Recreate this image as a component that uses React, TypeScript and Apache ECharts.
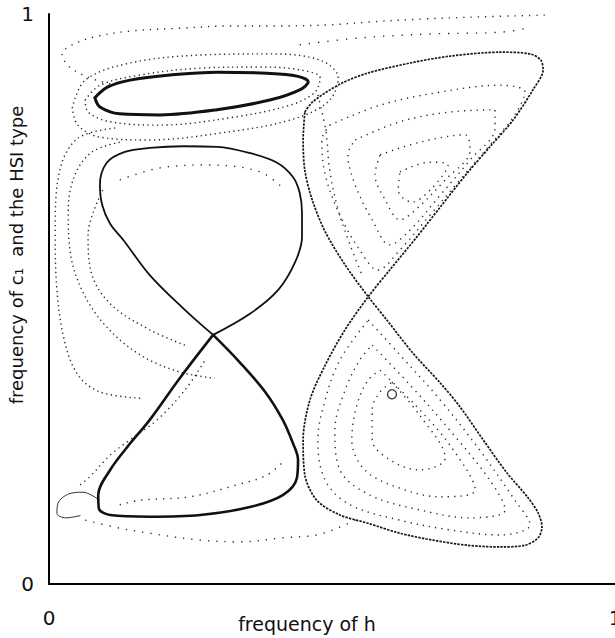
import React, { useEffect, useRef } from 'react';
import * as echarts from 'echarts';

// Axis ticks and their printed labels
const axisTicks = [0, 1];
const tickLabels = ['0', '1'];
const xTitle = 'frequency of h';
const yTitle = 'frequency of c\u2081  and the HSI type';

// Figure-eight orbit (frequency of h, frequency of c1), upper and lower lobes
const eightUpper = [
  [0.29, 0.437], [0.24, 0.481], [0.178, 0.542], [0.131, 0.604], [0.108, 0.632], [0.094, 0.665],
  [0.09, 0.7], [0.102, 0.739], [0.134, 0.758], [0.178, 0.765], [0.237, 0.768], [0.297, 0.767],
  [0.355, 0.756], [0.403, 0.739], [0.431, 0.714], [0.443, 0.686], [0.447, 0.651], [0.447, 0.609],
  [0.435, 0.565], [0.405, 0.516], [0.355, 0.474], [0.29, 0.437],
];
const eightLower = [
  [0.29, 0.437], [0.231, 0.361], [0.178, 0.288], [0.138, 0.24], [0.108, 0.2], [0.087, 0.156],
  [0.088, 0.133], [0.108, 0.121], [0.178, 0.118], [0.267, 0.121], [0.355, 0.135], [0.413, 0.156],
  [0.438, 0.186], [0.44, 0.218], [0.431, 0.247], [0.413, 0.288], [0.382, 0.337], [0.337, 0.389],
  [0.29, 0.437],
];
// Narrow cycle near the top
const topCycle = [
  [0.081, 0.853], [0.104, 0.872], [0.143, 0.884], [0.214, 0.893], [0.297, 0.898], [0.385, 0.896],
  [0.438, 0.891], [0.458, 0.881], [0.443, 0.867], [0.39, 0.849], [0.297, 0.832], [0.196, 0.823],
  [0.125, 0.825], [0.09, 0.837], [0.081, 0.853],
];
// Bow-tie orbit on the right
const bowtie = [
  [0.452, 0.828], [0.466, 0.846], [0.514, 0.877], [0.562, 0.896], [0.638, 0.914], [0.708, 0.926],
  [0.797, 0.933], [0.85, 0.93], [0.869, 0.919], [0.873, 0.902], [0.855, 0.867], [0.82, 0.814],
  [0.779, 0.767], [0.739, 0.721], [0.691, 0.661], [0.65, 0.609], [0.602, 0.551], [0.564, 0.504],
  [0.523, 0.446], [0.488, 0.384], [0.461, 0.323], [0.449, 0.253], [0.452, 0.191], [0.473, 0.147],
  [0.514, 0.121], [0.562, 0.107], [0.62, 0.089], [0.678, 0.077], [0.739, 0.068], [0.797, 0.065],
  [0.841, 0.068], [0.864, 0.081], [0.871, 0.1], [0.864, 0.125], [0.845, 0.153], [0.809, 0.195],
  [0.767, 0.253], [0.726, 0.311], [0.691, 0.353], [0.643, 0.405], [0.597, 0.463], [0.564, 0.504],
  [0.523, 0.56], [0.488, 0.618], [0.465, 0.674], [0.452, 0.726], [0.449, 0.779], [0.452, 0.828],
];
const smallLoop = [
  [0.085, 0.15], [0.06, 0.161], [0.035, 0.158], [0.016, 0.142], [0.014, 0.124], [0.03, 0.116],
  [0.055, 0.12],
];
const equilibrium = [[0.606, 0.333]];

// Transient trajectories (dotted)
const topArc = [
  [0.876, 0.998], [0.761, 0.995], [0.655, 0.991], [0.567, 0.986], [0.496, 0.981], [0.408, 0.979],
  [0.32, 0.979], [0.231, 0.975], [0.143, 0.97], [0.081, 0.96], [0.041, 0.946], [0.023, 0.93],
  [0.034, 0.909], [0.069, 0.889], [0.117, 0.875],
];
const topArc2 = [
  [0.443, 0.946], [0.549, 0.958], [0.673, 0.965], [0.797, 0.968], [0.845, 0.975],
];
const ringInner = [
  [0.064, 0.849], [0.09, 0.875], [0.161, 0.893], [0.267, 0.905], [0.373, 0.907], [0.443, 0.902],
  [0.479, 0.888], [0.47, 0.863], [0.426, 0.84], [0.32, 0.818], [0.196, 0.805], [0.108, 0.811],
  [0.069, 0.828], [0.064, 0.849],
];
const ringOuter = [
  [0.041, 0.835], [0.064, 0.884], [0.143, 0.914], [0.267, 0.928], [0.39, 0.93], [0.479, 0.919],
  [0.511, 0.888], [0.493, 0.846], [0.426, 0.814], [0.302, 0.791], [0.178, 0.779], [0.09, 0.784],
  [0.051, 0.805], [0.041, 0.835],
];
const leftNear = [
  [0.125, 0.775], [0.076, 0.758], [0.046, 0.718], [0.034, 0.656], [0.037, 0.586], [0.058, 0.516],
  [0.099, 0.454], [0.161, 0.402], [0.231, 0.372], [0.293, 0.361],
];
const leftFar = [
  [0.117, 0.8], [0.051, 0.782], [0.019, 0.726], [0.011, 0.621], [0.014, 0.516], [0.027, 0.428],
  [0.051, 0.367], [0.09, 0.337], [0.161, 0.326],
];
const leftInner = [
  [0.095, 0.691], [0.069, 0.612], [0.076, 0.542], [0.111, 0.489], [0.178, 0.446], [0.24, 0.419],
];
const lobeInside = [
  [0.125, 0.709], [0.196, 0.73], [0.284, 0.735], [0.373, 0.723], [0.417, 0.691],
];
const gapTrail = [
  [0.475, 0.858], [0.489, 0.796], [0.496, 0.726], [0.511, 0.656], [0.532, 0.595], [0.553, 0.542],
];
const belowArc = [
  [0.064, 0.112], [0.125, 0.098], [0.178, 0.089], [0.267, 0.077], [0.337, 0.074], [0.413, 0.081],
  [0.473, 0.086], [0.514, 0.1], [0.549, 0.116],
];
const lowerInside = [
  [0.125, 0.139], [0.161, 0.147], [0.249, 0.153], [0.332, 0.174], [0.385, 0.191], [0.417, 0.218],
];
const besideDiagonal = [
  [0.055, 0.174], [0.072, 0.188], [0.108, 0.226], [0.143, 0.253], [0.191, 0.288], [0.24, 0.34],
  [0.276, 0.393],
];
const upperNest1 = [
  [0.496, 0.805], [0.585, 0.84], [0.691, 0.863], [0.797, 0.875], [0.841, 0.863], [0.823, 0.823],
  [0.779, 0.77], [0.726, 0.709], [0.673, 0.647], [0.62, 0.586], [0.581, 0.551], [0.549, 0.586],
  [0.514, 0.647], [0.488, 0.718], [0.482, 0.779], [0.496, 0.805],
];
const upperNest2 = [
  [0.541, 0.779], [0.62, 0.811], [0.708, 0.828], [0.788, 0.832], [0.788, 0.8], [0.744, 0.744],
  [0.691, 0.682], [0.638, 0.621], [0.602, 0.595], [0.571, 0.639], [0.541, 0.7], [0.528, 0.753],
  [0.541, 0.779],
];
const upperNest3 = [
  [0.585, 0.753], [0.655, 0.775], [0.735, 0.788], [0.744, 0.761], [0.7, 0.709], [0.647, 0.656],
  [0.62, 0.639], [0.594, 0.674], [0.576, 0.718], [0.585, 0.753],
];
const upperNest4 = [
  [0.62, 0.723], [0.673, 0.74], [0.705, 0.735], [0.677, 0.695], [0.641, 0.67], [0.617, 0.691],
  [0.62, 0.723],
];
const lowerNest1 = [
  [0.564, 0.463], [0.62, 0.402], [0.691, 0.323], [0.761, 0.235], [0.823, 0.147], [0.85, 0.104],
  [0.797, 0.086], [0.708, 0.095], [0.62, 0.112], [0.532, 0.139], [0.488, 0.182], [0.475, 0.253],
  [0.488, 0.323], [0.514, 0.393], [0.564, 0.463],
];
const lowerNest2 = [
  [0.571, 0.419], [0.638, 0.349], [0.708, 0.27], [0.779, 0.182], [0.806, 0.13], [0.744, 0.116],
  [0.655, 0.13], [0.567, 0.156], [0.514, 0.2], [0.505, 0.27], [0.523, 0.34], [0.549, 0.393],
  [0.571, 0.419],
];
const lowerNest3 = [
  [0.585, 0.375], [0.647, 0.314], [0.708, 0.244], [0.753, 0.165], [0.691, 0.153], [0.62, 0.168],
  [0.558, 0.2], [0.535, 0.253], [0.544, 0.314], [0.564, 0.358], [0.585, 0.375],
];
const lowerNest4 = [
  [0.606, 0.354], [0.655, 0.296], [0.7, 0.221], [0.655, 0.2], [0.602, 0.218], [0.571, 0.253],
  [0.571, 0.305], [0.585, 0.337], [0.606, 0.354],
];

const FONT = '"DejaVu Sans", "Liberation Sans", sans-serif';

function solid(data: number[][], width: number, color = '#111') {
  return {
    type: 'line', data, smooth: 0.35, symbol: 'none', silent: true,
    lineStyle: { color, width, cap: 'round', join: 'round' },
  };
}

function dotted(data: number[][], gap = 3.4, width = 1.4, color = '#2a2a2a') {
  return {
    type: 'line', data, smooth: 0.35, symbol: 'none', silent: true,
    lineStyle: { color, width, type: [1.3, gap], cap: 'butt' },
  };
}

export default function App() {
  const ref = useRef<HTMLDivElement>(null);

  useEffect(() => {
    document.body.style.margin = '0';
    const chart = echarts.init(ref.current!, null, { renderer: 'svg' });
    const label = (v: number) => tickLabels[axisTicks.indexOf(v)] ?? '';
    chart.setOption({
      animation: false,
      backgroundColor: '#fff',
      grid: { left: 49, right: 0, top: 14, bottom: 54, outerBoundsMode: 'none', containLabel: false },
      xAxis: {
        type: 'value', min: 0, max: 1, interval: 1,
        axisLine: { lineStyle: { color: '#000', width: 2 } },
        axisTick: { show: false }, splitLine: { show: false },
        axisLabel: { formatter: label, fontSize: 20, color: '#111', fontFamily: FONT, margin: 24 },
      },
      yAxis: {
        type: 'value', min: 0, max: 1, interval: 1,
        axisLine: { show: true, lineStyle: { color: '#000', width: 2 } },
        axisTick: { show: false }, splitLine: { show: false },
        axisLabel: { formatter: label, fontSize: 20, color: '#111', fontFamily: FONT, margin: 15 },
      },
      graphic: [
        {
          type: 'text', x: 307, y: 624,
          style: { text: xTitle, fontSize: 19, fontFamily: FONT, fill: '#111', align: 'center', verticalAlign: 'middle' },
        },
        {
          type: 'text', x: 16, y: 255, rotation: Math.PI / 2,
          style: { text: yTitle, fontSize: 18, fontFamily: FONT, fill: '#111', align: 'center', verticalAlign: 'middle' },
        },
      ],
      series: [
        dotted(topArc, 6),
        dotted(topArc2, 8),
        dotted(ringInner),
        dotted(ringOuter),
        dotted(leftNear),
        dotted(leftFar),
        dotted(leftInner),
        dotted(lobeInside, 7),
        dotted(gapTrail, 5),
        dotted(belowArc, 7),
        dotted(lowerInside, 6),
        dotted(besideDiagonal, 4),
        dotted(upperNest1, 5),
        dotted(upperNest2, 5),
        dotted(upperNest3, 5),
        dotted(upperNest4, 5),
        dotted(lowerNest1, 5),
        dotted(lowerNest2, 5),
        dotted(lowerNest3, 5),
        dotted(lowerNest4, 5),
        {
          type: 'line', data: bowtie, smooth: 0.3, symbol: 'none', silent: true,
          lineStyle: { color: '#161616', width: 1.7, type: [2.4, 1.2] },
        },
        solid(smallLoop, 1, '#333'),
        solid(eightUpper, 1.8),
        solid(eightLower, 2.6),
        solid(topCycle, 3),
        {
          type: 'scatter', data: equilibrium, symbol: 'circle', symbolSize: 9, silent: true,
          itemStyle: { color: '#fff', borderColor: '#111', borderWidth: 1.4 },
        },
      ],
    });
    return () => chart.dispose();
  }, []);

  return <div ref={ref} style={{ width: 615, height: 638 }} />;
}
